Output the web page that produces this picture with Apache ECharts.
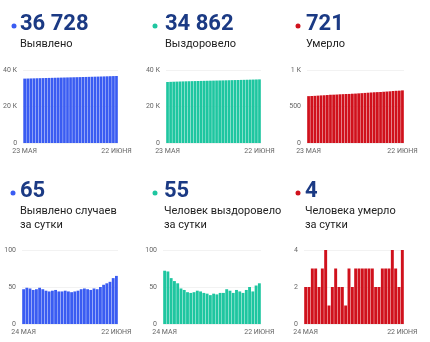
<!DOCTYPE html>
<html><head><meta charset="utf-8">
<script src="https://cdn.jsdelivr.net/npm/echarts@6/dist/echarts.min.js"></script>
<style>html,body{margin:0;padding:0;background:#fff}#c{width:430px;height:342px}</style>
</head><body><div id="c"></div>
<script>
// Cumulative, 23 May .. 22 June
var datesCum = ['23 МАЯ','24 МАЯ','25 МАЯ','26 МАЯ','27 МАЯ','28 МАЯ','29 МАЯ','30 МАЯ','31 МАЯ','1 ИЮНЯ','2 ИЮНЯ','3 ИЮНЯ','4 ИЮНЯ','5 ИЮНЯ','6 ИЮНЯ','7 ИЮНЯ','8 ИЮНЯ','9 ИЮНЯ','10 ИЮНЯ','11 ИЮНЯ','12 ИЮНЯ','13 ИЮНЯ','14 ИЮНЯ','15 ИЮНЯ','16 ИЮНЯ','17 ИЮНЯ','18 ИЮНЯ','19 ИЮНЯ','20 ИЮНЯ','21 ИЮНЯ','22 ИЮНЯ'];
// Daily, 24 May .. 22 June
var datesDay = ['24 МАЯ','25 МАЯ','26 МАЯ','27 МАЯ','28 МАЯ','29 МАЯ','30 МАЯ','31 МАЯ','1 ИЮНЯ','2 ИЮНЯ','3 ИЮНЯ','4 ИЮНЯ','5 ИЮНЯ','6 ИЮНЯ','7 ИЮНЯ','8 ИЮНЯ','9 ИЮНЯ','10 ИЮНЯ','11 ИЮНЯ','12 ИЮНЯ','13 ИЮНЯ','14 ИЮНЯ','15 ИЮНЯ','16 ИЮНЯ','17 ИЮНЯ','18 ИЮНЯ','19 ИЮНЯ','20 ИЮНЯ','21 ИЮНЯ','22 ИЮНЯ'];

var casesCum = [35281,35328,35377,35425,35471,35518,35567,35614,35659,35703,35748,35794,35838,35882,35927,35971,36014,36058,36103,36150,36198,36245,36291,36339,36386,36436,36489,36544,36601,36663,36728];
var recovCum = [33433,33505,33576,33638,33696,33751,33799,33845,33888,33930,33973,34018,34062,34104,34145,34184,34225,34265,34307,34349,34396,34441,34483,34529,34573,34615,34661,34711,34755,34807,34862];
var deathCum = [642,644,646,649,652,654,657,661,662,664,667,669,671,672,675,677,680,683,686,689,692,695,697,699,702,705,708,712,715,717,721];

var casesDay = [47,49,48,46,47,49,47,45,44,45,46,44,44,45,44,43,44,45,47,48,47,46,48,47,50,53,55,57,62,65];
var recovDay = [72,71,62,58,55,48,46,43,42,43,45,44,42,41,39,41,40,42,42,47,45,42,46,44,42,46,50,44,52,55];
var deathDay = [2,2,3,3,2,3,4,1,2,3,2,2,1,3,2,3,3,3,3,3,3,2,2,3,3,3,4,3,2,4];

var headNums = ['36 728','34 862','721','65','55','4'];
var headLabels = ['Выявлено','Выздоровело','Умерло','Выявлено случаев\nза сутки','Человек выздоровело\nза сутки','Человека умерло\nза сутки'];
var yMax = [40000,40000,1000,100,100,4];
var yStep = [20000,20000,500,50,50,2];

var BLUE='#3a5cf2', GREEN='#1ec6a0', RED='#d0111c', NAVY='#1b3a84';
var colors=[BLUE,GREEN,RED,BLUE,GREEN,RED];
var seriesData=[casesCum,recovCum,deathCum,casesDay,recovDay,deathDay];
var cats=[datesCum,datesCum,datesCum,datesDay,datesDay,datesDay];

var panelY=[0,0,0,167,167,167];
var grids=[
  {left:23,width:95,top:70,height:73},
  {left:166,width:95,top:70,height:73},
  {left:307,width:97,top:70,height:73},
  {left:22,width:96,top:250,height:74},
  {left:163,width:98,top:250,height:74},
  {left:304,width:100,top:250,height:74}
];
var dotX=[14,155,298,13,155,298];
var textX=[20,165,306,20,164,305];

function kfmt(v){ if(v===0) return '0'; if(v>=1000) return (v/1000)+' К'; return String(v); }

(function(){
var option={animation:false,grid:[],xAxis:[],yAxis:[],series:[],title:[],graphic:[]};
for(var i=0;i<6;i++){
  option.grid.push(grids[i]);
  (function(n){
  option.xAxis.push({type:'category',gridIndex:i,data:cats[i],
    axisLine:{show:false},axisTick:{show:false},
    axisLabel:{interval:function(idx){return idx===0||idx===n-1;},fontSize:7,color:'#666',fontFamily:'Roboto',margin:5}});
  })(cats[i].length);
  option.yAxis.push({type:'value',gridIndex:i,min:0,max:yMax[i],interval:yStep[i],
    axisLine:{show:false},axisTick:{show:false},
    splitLine:{lineStyle:{color:'#f2f2f2',width:1}},
    axisLabel:{formatter:kfmt,fontSize:7,color:'#666',fontFamily:'Roboto',margin:6}});
  option.series.push({type:'bar',xAxisIndex:i,yAxisIndex:i,data:seriesData[i],
    barCategoryGap:'12%',itemStyle:{color:colors[i]},silent:true});
  var py=panelY[i];
  option.title.push({text:headNums[i],left:textX[i],top:py+13,padding:0,
    textStyle:{fontFamily:'Roboto',fontWeight:'bold',fontSize:22,color:NAVY}});
  option.title.push({text:headLabels[i],left:textX[i],top:py+37,padding:0,
    textStyle:{fontFamily:'Roboto',fontWeight:'normal',fontSize:11,color:'#222',lineHeight:14}});
  option.graphic.push({type:'circle',shape:{cx:dotX[i],cy:py+26,r:2.5},style:{fill:colors[i]}});
}
var chart=echarts.init(document.getElementById('c'),null,{renderer:'canvas'});
chart.setOption(option);
})();
</script></body></html>
